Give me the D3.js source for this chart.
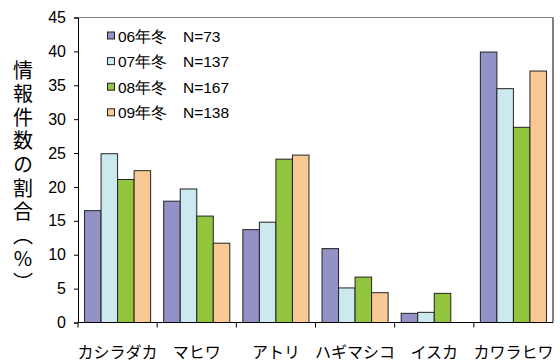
<!DOCTYPE html>
<html><head><meta charset="utf-8">
<script src="https://cdn.jsdelivr.net/npm/d3@7"></script>
<style>body{margin:0;background:#fff}svg{display:block}</style>
</head><body>
<svg id="c" width="560" height="361"></svg>
<script>
const categories = ["カシラダカ","マヒワ","アトリ","ハギマシコ","イスカ","カワラヒワ"];
const seriesNames = ["06年冬","07年冬","08年冬","09年冬"];
const seriesN = ["N=73","N=137","N=167","N=138"];
const v06 = [16.5,17.9,13.7,10.9,1.35,39.9];
const v07 = [24.9,19.7,14.8,5.1,1.5,34.5];
const v08 = [21.1,15.7,24.1,6.7,4.3,28.8];
const v09 = [22.4,11.7,24.7,4.4,0,37.1];
const yTicks = [0,5,10,15,20,25,30,35,40,45];
const colors = ["#9392c6","#cde9f0","#93c43e","#f9c995"];
const yTitle = "情報件数の割合（%）";

const series = [v06,v07,v08,v09];
const svg = d3.select("#c");
const L=78, R=553, T=17.5, B=322.5;
const x = d3.scaleBand().domain(categories).range([L,R]).paddingInner(0.165).paddingOuter(0.0825);
const xs = d3.scaleBand().domain(seriesNames).range([0,x.bandwidth()]);
const y = d3.scaleLinear().domain([0,45]).range([B,T]);
const font = "'Liberation Sans', Arial, sans-serif";
const jfont = "'Noto Sans CJK JP', sans-serif";

// frame top/right
svg.append("line").attr("x1",L).attr("x2",R).attr("y1",T).attr("y2",T).attr("stroke","#808080").attr("stroke-width",1);
svg.append("line").attr("x1",R).attr("x2",R).attr("y1",T).attr("y2",B).attr("stroke","#000").attr("stroke-width",1);

// bars
series.forEach((vals,si)=>{
  svg.append("g").selectAll("rect").data(vals.map((v,i)=>({c:categories[i],v}))).join("rect")
    .filter(d=>d.v>0)
    .attr("x",d=>x(d.c)+xs(seriesNames[si]))
    .attr("y",d=>y(d.v))
    .attr("width",xs.bandwidth())
    .attr("height",d=>B-y(d.v))
    .attr("fill",colors[si]).attr("stroke","#222").attr("stroke-width",1);
});

// y axis
const ya = svg.append("g").attr("transform",`translate(${L},0)`)
  .call(d3.axisLeft(y).tickValues(yTicks).tickSize(4).tickPadding(8));
ya.select(".domain").attr("stroke","#000");
ya.selectAll("text").attr("font-family",font).attr("font-size",16).attr("fill","#000");

// x axis
const xa = svg.append("g").attr("transform",`translate(0,${B})`);
xa.append("line").attr("x1",L).attr("x2",R).attr("stroke","#000");
const bounds = d3.range(categories.length).map(i=>L + i*(R-L)/categories.length);
xa.selectAll("line.t").data(bounds).join("line").attr("class","t")
  .attr("x1",d=>d).attr("x2",d=>d).attr("y1",0).attr("y2",5).attr("stroke","#000");
xa.selectAll("text").data(categories).join("text")
  .attr("x",d=>x(d)+x.bandwidth()/2).attr("y",35)
  .attr("text-anchor","middle").attr("font-family",jfont).attr("font-size",16).attr("fill","#000")
  .text(d=>d);

// y title (vertical writing)
svg.append("text")
  .attr("x",23).attr("y",60)
  .style("writing-mode","vertical-rl").style("text-orientation","upright")
  .attr("letter-spacing",3.6)
  .attr("font-family",jfont).attr("font-size",20).attr("fill","#000")
  .text(yTitle);

// legend
const lg = svg.append("g");
seriesNames.forEach((s,i)=>{
  const yy = 36 + i*25.6;
  lg.append("rect").attr("x",107.5).attr("y",yy-4).attr("width",7).attr("height",7)
    .attr("fill",colors[i]).attr("stroke","#222").attr("stroke-width",1);
  lg.append("text").attr("x",118).attr("y",yy).attr("dominant-baseline","central")
    .attr("font-family",font).attr("font-size",15.5).attr("fill","#000").text(s);
  lg.append("text").attr("x",183).attr("y",yy).attr("dominant-baseline","central")
    .attr("font-family",font).attr("font-size",15.5).attr("fill","#000").text(seriesN[i]);
});
</script>
</body></html>
